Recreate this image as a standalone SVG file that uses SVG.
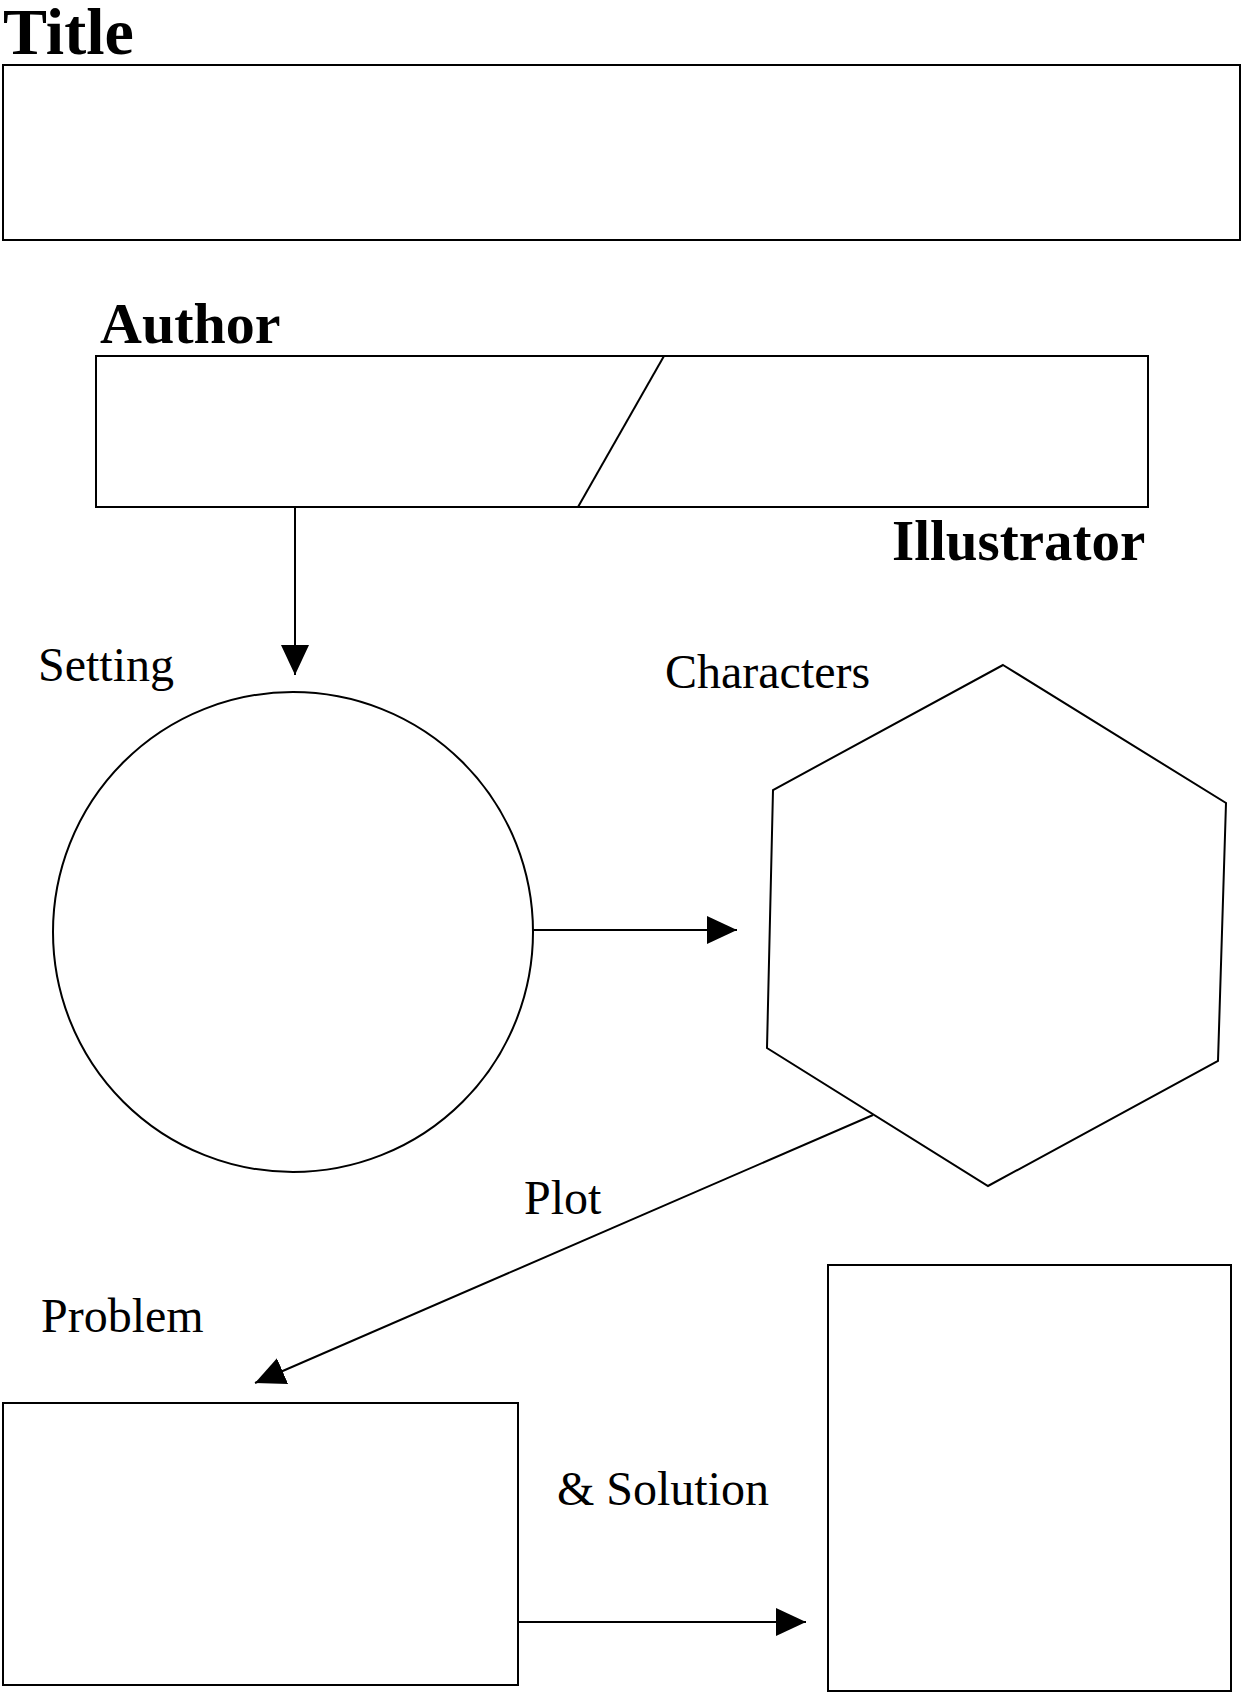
<svg xmlns="http://www.w3.org/2000/svg" width="1241" height="1694" viewBox="0 0 1241 1694">
<style>
.shape{fill:none;stroke:#000;stroke-width:2}
.conn{fill:none;stroke:#000;stroke-width:2}
.lbl{font-family:"Liberation Serif","Times New Roman",serif;font-size:48px;fill:#000}
.hdr{font-family:"Liberation Serif","Times New Roman",serif;font-weight:bold;fill:#000}
</style>
<defs>
<marker id="arr" viewBox="0 0 30 28" refX="30" refY="14" markerWidth="30" markerHeight="28" markerUnits="userSpaceOnUse" orient="auto">
<path d="M0,0 L30,14 L0,28 Z" fill="#000"/>
</marker>
</defs>
<rect width="1241" height="1694" fill="#fff"/>
<g id="title">
<text class="hdr" x="3" y="54" font-size="66">Title</text>
<rect class="shape" x="3" y="65" width="1237" height="175"/>
</g>
<g id="author-illustrator">
<text class="hdr" x="100" y="343" font-size="58">Author</text>
<rect class="shape" x="96" y="356" width="1052" height="151"/>
<line class="shape" x1="664" y1="356" x2="578" y2="507"/>
<text class="hdr" x="892" y="560" font-size="57">Illustrator</text>
</g>
<g id="setting">
<text class="lbl" x="38" y="681">Setting</text>
<circle class="shape" cx="293" cy="932" r="240"/>
</g>
<g id="characters">
<text class="lbl" x="665" y="688">Characters</text>
<polygon class="shape" points="1003,665 1226,803 1218,1061 988,1186 767,1048 773,790"/>
</g>
<g id="plot-label">
<text class="lbl" x="524" y="1214">Plot</text>
</g>
<g id="problem">
<text class="lbl" x="41" y="1332">Problem</text>
<rect class="shape" x="3" y="1403" width="515" height="282"/>
</g>
<g id="solution">
<text class="lbl" x="557" y="1505">&amp; Solution</text>
<rect class="shape" x="828" y="1265" width="403" height="426"/>
</g>
<g id="connectors">
<line class="conn" x1="295" y1="507" x2="295" y2="675" marker-end="url(#arr)"/>
<line class="conn" x1="532" y1="930" x2="737" y2="930" marker-end="url(#arr)"/>
<line class="conn" x1="873" y1="1115" x2="255" y2="1383" marker-end="url(#arr)"/>
<line class="conn" x1="518" y1="1622" x2="806" y2="1622" marker-end="url(#arr)"/>
</g>
</svg>
